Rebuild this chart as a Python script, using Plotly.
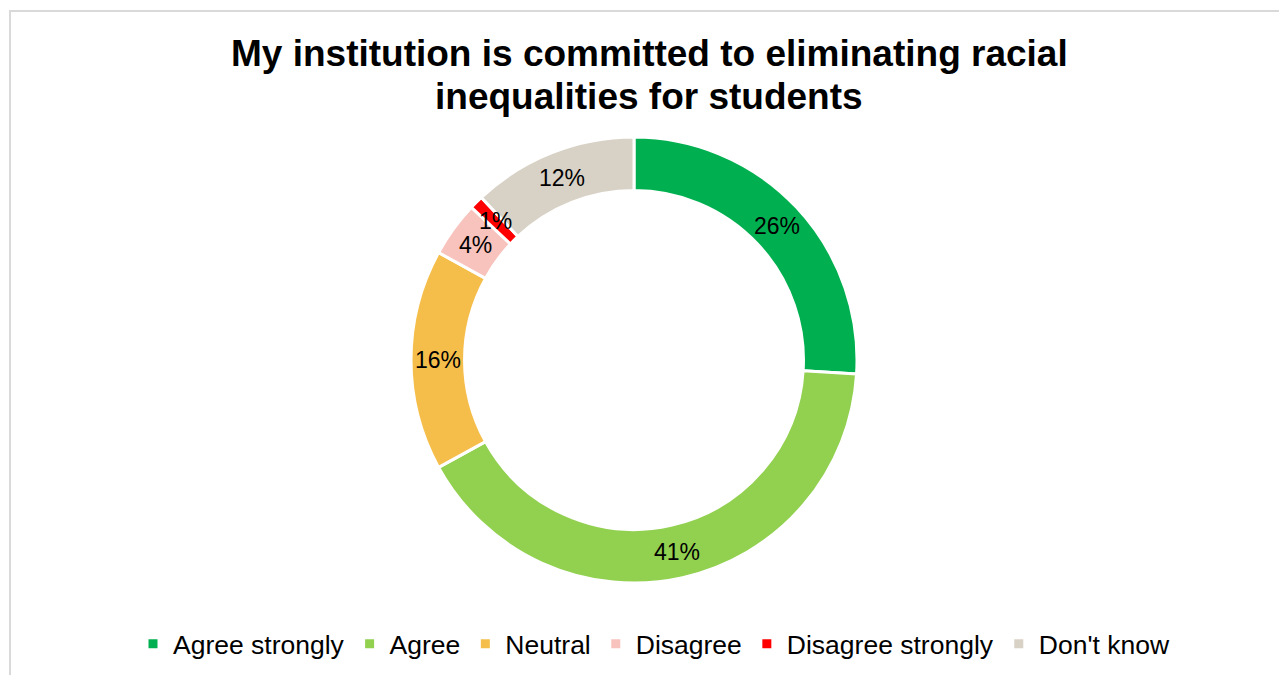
import math
import plotly.graph_objects as go

# Survey responses (share of respondents, %)
categories = ["Agree strongly", "Agree", "Neutral", "Disagree", "Disagree strongly", "Don't know"]
values = [26, 41, 16, 4, 1, 12]
colors = ["#00B050", "#92D050", "#F5BE4B", "#F8C3BD", "#FF0000", "#D8D1C5"]

W, H = 1279, 675

# Donut geometry in pixels (centre, outer radius, hole fraction)
cx, cy, r = 634, 360, 223
hole = 0.76
domain = dict(
    x=[(cx - r) / W, (cx + r) / W],
    y=[1 - (cy + r) / H, 1 - (cy - r) / H],
)

fig = go.Figure(go.Pie(
    labels=categories, values=values, sort=False,
    direction="clockwise", rotation=0, hole=hole, domain=domain,
    marker=dict(colors=colors, line=dict(color="white", width=3)),
    textinfo="none",
    hoverinfo="label+percent",
))

# Percentage labels centred in the ring at each slice's mid-angle
label_font = dict(family="Liberation Sans, Arial, sans-serif", size=23, color="black")
total = sum(values)
r_mid = r * (1 + hole) / 2
cum = 0
for v in values:
    theta = 2 * math.pi * (cum + v / 2) / total
    cum += v
    px = cx + r_mid * math.sin(theta)
    py = cy - r_mid * math.cos(theta)
    fig.add_annotation(
        text=f"{v}%", x=px / W, y=1 - py / H, xref="paper", yref="paper",
        xanchor="center", yanchor="middle", showarrow=False, font=label_font,
    )

title_font = dict(family="Liberation Sans, Arial, sans-serif", size=37, color="black")
title_lines = [
    ("<b>My institution is committed to eliminating racial</b>", 54),
    ("<b>inequalities for students</b>", 97),
]
for text, ypx in title_lines:
    fig.add_annotation(
        text=text, x=649 / W, y=1 - ypx / H, xref="paper", yref="paper",
        xanchor="center", yanchor="middle", showarrow=False, font=title_font,
    )

# Light grey chart-area frame
fig.add_shape(
    type="rect", xref="paper", yref="paper",
    x0=10 / W, y0=-0.05, x1=1.05, y1=1 - 11 / H,
    line=dict(color="#D9D9D9", width=2), fillcolor="rgba(0,0,0,0)", layer="below",
)

fig.update_layout(
    width=W, height=H,
    margin=dict(l=0, r=0, t=0, b=0),
    paper_bgcolor="white", plot_bgcolor="white",
    showlegend=True,
    legend=dict(
        orientation="h", x=654 / W, xanchor="center", y=1 - 644 / H, yanchor="middle",
        font=dict(family="Liberation Sans, Arial, sans-serif", size=26.5, color="black"),
        traceorder="normal", itemclick=False, itemdoubleclick=False,
    ),
)

fig.write_html("out.html")
